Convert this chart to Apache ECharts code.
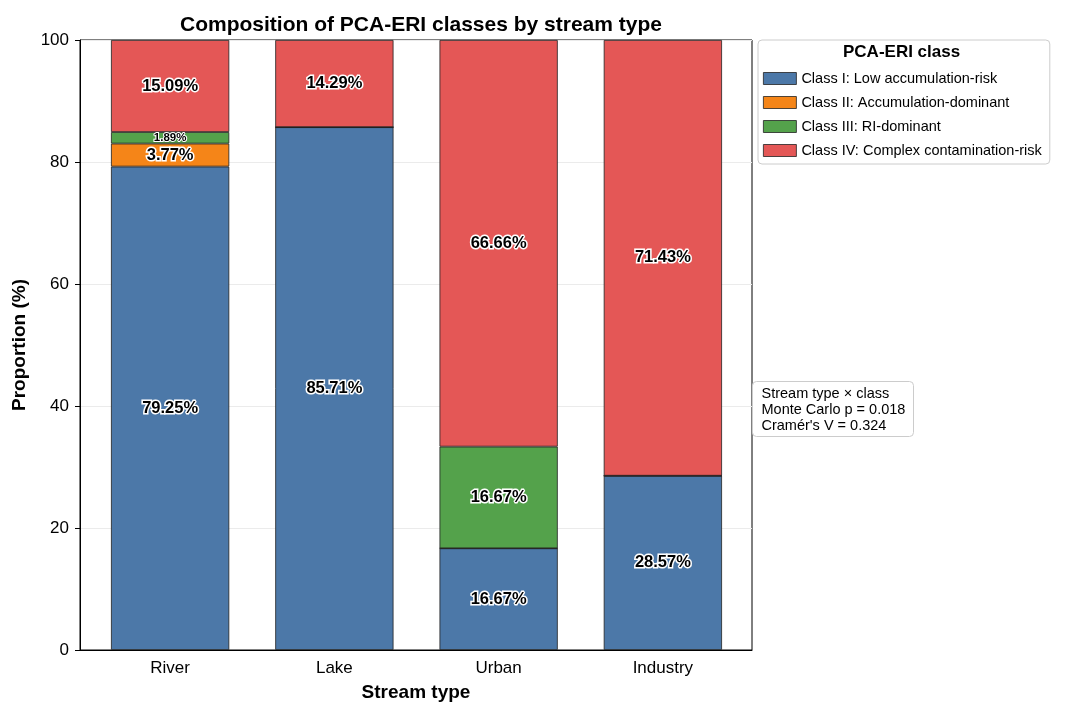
<!DOCTYPE html>
<html>
<head>
<meta charset="utf-8">
<script src="https://cdn.jsdelivr.net/npm/echarts@6/dist/echarts.min.js"></script>
<style>
  html, body { margin: 0; padding: 0; background: #fff; }
  #chart { width: 1065px; height: 716px; }
</style>
</head>
<body>
<div id="chart"></div>
<script>
// stream types and class shares (%) per stream type
let streamTypes = ['River', 'Lake', 'Urban', 'Industry']
let classNames = [
    'Class I: Low accumulation-risk',
    'Class II: Accumulation-dominant',
    'Class III: RI-dominant',
    'Class IV: Complex contamination-risk'
]
let class1 = [79.25, 85.71, 16.67, 28.57]
let class2 = [3.77, 0, 0, 0]
let class3 = [1.89, 0, 16.67, 0]
let class4 = [15.09, 14.29, 66.66, 71.43]
let classColors = ['#4c78a8', '#f58518', '#54a24b', '#e45756']
let yTicks = [0, 20, 40, 60, 80, 100]

let statLines = ['Stream type \u00d7 class', 'Monte Carlo p = 0.018', "Cram\u00e9r's V = 0.324"]

const FONT = 'Liberation Sans, Arial, sans-serif'

let chart = echarts.init(document.getElementById('chart'))

let allClasses = [class1, class2, class3, class4]
let series = allClasses.map(function(vals, i) {
    return {
        name: classNames[i],
        type: 'bar',
        stack: 'total',
        xAxisIndex: 1,
        yAxisIndex: 1,
        barWidth: '72%',
        itemStyle: { color: classColors[i], borderColor: '#222', borderWidth: 0.8 },
        label: {
            show: true,
            position: 'inside',
            fontFamily: FONT,
            fontWeight: 'bold',
            color: '#000',
            textBorderColor: '#fff',
            textBorderWidth: 3,
            formatter: function(p) {
                if (!p.value) return ''
                return p.value.toFixed(2) + '%'
            }
        },
        // tiny segments get a smaller label
        data: vals.map(function(v) {
            let item = { value: v }
            if (v > 0 && v < 3) item.label = { fontSize: 11.5, textBorderWidth: 2 }
            else item.label = { fontSize: 16.5 }
            return item
        })
    }
})

let option = {
    animation: false,
    textStyle: { fontFamily: FONT },
    title: {
        text: 'Composition of PCA-ERI classes by stream type',
        left: 416,
        top: 10,
        textAlign: 'center',
        textStyle: { fontFamily: FONT, fontSize: 21, fontWeight: 'bold', color: '#000' }
    },
    legend: {
        orient: 'vertical',
        left: 758,
        top: 40,
        padding: [31, 8, 6, 5],
        itemGap: 9,
        itemWidth: 33,
        itemHeight: 12,
        borderColor: '#ccc',
        borderWidth: 1,
        borderRadius: 4,
        backgroundColor: '#fff',
        icon: 'rect',
        data: classNames,
        itemStyle: { borderColor: '#222', borderWidth: 0.8 },
        textStyle: { fontFamily: FONT, fontSize: 14.5, color: '#000' }
    },
    grid: [
        // frame of the plot area
        { left: 80, right: 313, top: 40, bottom: 66, show: true, borderColor: '#000', borderWidth: 1 },
        // bars, with matplotlib-like side margins
        { left: 88, right: 320, top: 40, bottom: 66 }
    ],
    xAxis: [
        {
            gridIndex: 0,
            type: 'category',
            data: streamTypes,
            name: 'Stream type',
            nameLocation: 'middle',
            nameGap: 33,
            nameTextStyle: { fontFamily: FONT, fontSize: 19, fontWeight: 'bold', color: '#000' },
            axisLine: { lineStyle: { color: '#000' } },
            axisTick: { show: false },
            axisLabel: { show: false }
        },
        {
            gridIndex: 1,
            type: 'category',
            data: streamTypes,
            axisLine: { show: false },
            axisTick: { alignWithLabel: true, length: 5, lineStyle: { color: '#000' } },
            axisLabel: { fontFamily: FONT, fontSize: 17, color: '#000', margin: 10 }
        }
    ],
    yAxis: [
        {
            gridIndex: 0,
            type: 'value',
            min: yTicks[0],
            max: yTicks[yTicks.length - 1],
            interval: 20,
            name: 'Proportion (%)',
            nameLocation: 'middle',
            nameGap: 46,
            nameTextStyle: { fontFamily: FONT, fontSize: 19, fontWeight: 'bold', color: '#000' },
            axisLine: { show: true, lineStyle: { color: '#000' } },
            axisTick: { show: true, length: 5, lineStyle: { color: '#000' } },
            axisLabel: { fontFamily: FONT, fontSize: 17, color: '#000', margin: 11 },
            splitLine: { show: true, lineStyle: { color: '#ebebeb', width: 1 } }
        },
        {
            gridIndex: 1,
            type: 'value',
            min: yTicks[0],
            max: yTicks[yTicks.length - 1],
            interval: 20,
            axisLine: { show: false },
            axisTick: { show: false },
            axisLabel: { show: false },
            splitLine: { show: false }
        }
    ],
    graphic: [
        {
            type: 'text',
            z: 100,
            left: 843,
            top: 44,
            style: {
                text: 'PCA-ERI class',
                fontFamily: FONT,
                fontSize: 17,
                fontWeight: 'bold',
                fill: '#000'
            }
        },
        {
            type: 'group',
            left: 752,
            top: 381,
            children: [
                {
                    type: 'rect',
                    shape: { x: 0, y: 0, width: 161, height: 55, r: 4 },
                    style: { fill: '#fff', stroke: '#ccc', lineWidth: 1 }
                },
                {
                    type: 'text',
                    x: 9,
                    y: 4,
                    style: {
                        text: statLines.join('\n'),
                        fontFamily: FONT,
                        fontSize: 14.5,
                        lineHeight: 16,
                        fill: '#000'
                    }
                }
            ]
        }
    ],
    series: series
}

chart.setOption(option)
</script>
</body>
</html>
